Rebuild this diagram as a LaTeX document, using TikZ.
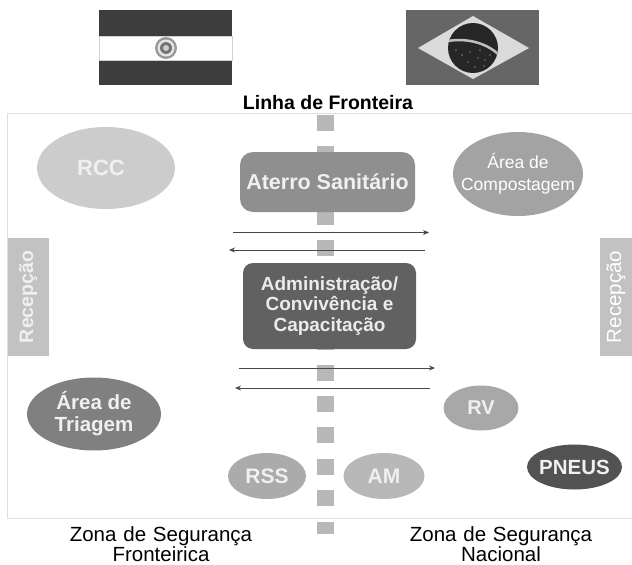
\documentclass[tikz,border=0pt]{standalone}
\usepackage{fontspec}
\setmainfont{Liberation Sans}
\usetikzlibrary{shapes.geometric,arrows.meta}
\tikzset{
  lbl/.style={font=\fontsize{#1}{22}\selectfont\bfseries,text=white!94!black,align=center,inner sep=0pt},
  lbr/.style={font=\fontsize{#1}{22}\selectfont,text=white,align=center,inner sep=0pt},
  ell/.style={ellipse,draw=none,inner sep=0pt},
  rbox/.style={rectangle,rounded corners=13pt,inner sep=0pt},
  rec/.style={rectangle,fill=black!24,inner sep=0pt,minimum width=41pt,minimum height=118pt},
  dsh/.style={fill=black!28,draw=none},
  flow/.style={draw=black!72,line width=0.9pt,-{Stealth[length=6pt,width=5pt]}},
  zonecap/.style={font=\fontsize{20.5}{19.5}\selectfont,text=black,align=center,inner sep=0pt,text width=260pt},
}
\begin{document}
\begin{tikzpicture}[x=1pt,y=-1pt]
\useasboundingbox (0,0) rectangle (632,565);
\clip (0,0) rectangle (632,565);
\fill[white] (0,0) rectangle (632,565);
% frame
\draw[black!13,line width=1pt] (640,113.5) -- (7.5,113.5) -- (7.5,518.5) -- (640,518.5);
% boundary dashes
\foreach \y in {115,146,177,209,240,271,303,334,365,396,427,459,490}
  \fill[dsh] (317,\y) rectangle (334,\y+16);
\fill[dsh] (317,522) rectangle (334,534);
% Paraguay flag
\fill[black!76] (99,10) rectangle (232,36);
\fill[black!76] (99,60) rectangle (232,85);
\draw[black!18,line width=.6pt] (99,36) rectangle (232,60);
\fill[black!40] (166,48) circle (11);
\fill[black!10] (166,48) circle (8.5);
\fill[black!55] (166,48) circle (6);
\fill[black!20] (166,48) circle (3);
% Brazil flag
\fill[black!60] (406,10) rectangle (539,85);
\fill[black!14] (418,48) -- (473,16) -- (529,48) -- (473,79) -- cycle;
\fill[black!85] (473,48) circle (25);
\begin{scope}
\clip (473,48) circle (25);
\draw[black!25,line width=2.5pt] (448,41) .. controls (465,38) and (485,42) .. (498,54);
\end{scope}
\foreach \a/\b in {462/55,470/52,478/58,485/60,456/50,468/62,480/50,490/55,475/67,484/66}
  \fill[white!85!black] (\a,\b) circle (.7);
% title
\node[font=\fontsize{19.5}{20}\selectfont\bfseries,inner sep=0pt] (linha) at (328,103) {Linha de Fronteira};
% central boxes
\node[rbox,fill=black!44,minimum width=175pt,minimum height=60pt] (aterro) at (327.5,182) {};
\node[lbl=21.5] at (aterro) {Aterro Sanitário};
\node[rbox,fill=black!62,rounded corners=10pt,minimum width=173pt,minimum height=86pt] (admin) at (329.5,306) {};
\node[lbl=19,text=black!8,font=\fontsize{19}{20.5}\selectfont\bfseries] (admintxt) at (admin) {Administração/\\Convivência e\\Capacitação};
% arrows
\coordinate (a1s) at (233,232.5); \coordinate (a1e) at (429,232.5);
\coordinate (a2s) at (425,250);   \coordinate (a2e) at (229,250);
\coordinate (a3s) at (239,368);   \coordinate (a3e) at (435,368);
\coordinate (a4s) at (430,388);   \coordinate (a4e) at (235,388);
\draw[flow] (a1s) -- (a1e);
\draw[flow] (a2s) -- (a2e);
\draw[flow] (a3s) -- (a3e);
\draw[flow] (a4s) -- (a4e);
% ellipses
\node[ell,fill=black!20,minimum width=138pt,minimum height=82pt] (rcc) at (106,168) {};
\node[lbl=22] at (101,168) {RCC};
\node[ell,fill=black!36,minimum width=130pt,minimum height=84pt] (comp) at (518,174) {};
\node[lbr=17.5] at (518,174) {Área de\\Compostagem};
\node[ell,fill=black!50,minimum width=134pt,minimum height=73pt] (tri) at (94,414) {};
\node[lbl=20.5] at (tri) {Área de\\Triagem};
\node[ell,fill=black!33,minimum width=78pt,minimum height=46pt] (rss) at (267,476) {};
\node[lbl=21] at (rss) {RSS};
\node[ell,fill=black!28,minimum width=81pt,minimum height=46pt] (am) at (384,476) {};
\node[lbl=21] at (am) {AM};
\node[ell,fill=black!34,minimum width=75pt,minimum height=45pt] (rv) at (481,408) {};
\node[lbl=20] at (rv) {RV};
\node[ell,fill=black!68,minimum width=95pt,minimum height=45pt] (pneus) at (574.5,467) {};
\node[lbl=20.5] at (pneus) {PNEUS};
% Recepcao
\node[rec] (recl) at (28,297) {};
\node[lbl=19.5,rotate=90,text=black!6] at (recl) {Recepção};
\node[rec] (recr) at (620,297) {};
\node[lbr=20.5,rotate=90] at (616,297) {Recepção};
% captions
\node[zonecap] (zf) at (161,544) {Zona de Segurança\\Fronteirica};
\node[zonecap] (zn) at (501,544) {Zona de Segurança\\Nacional};
\end{tikzpicture}
\end{document}
